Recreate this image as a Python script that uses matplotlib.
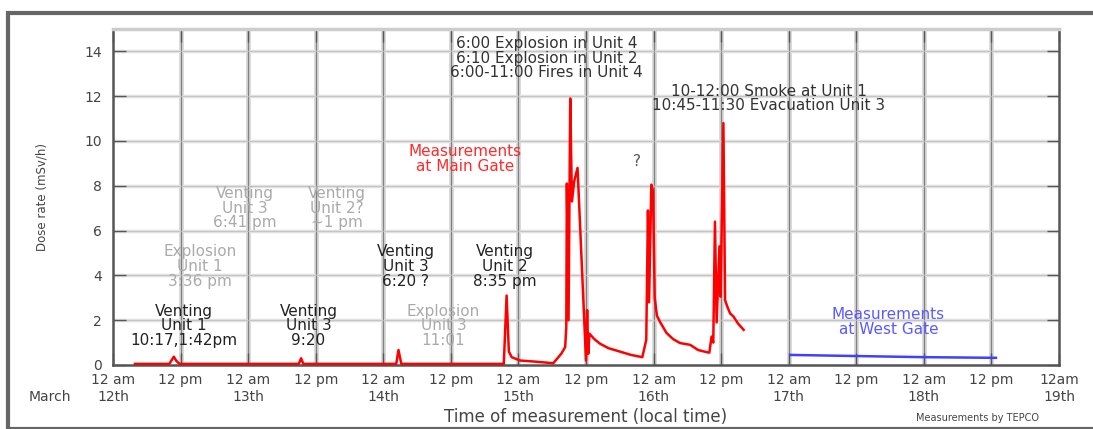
import matplotlib
matplotlib.use("Agg")
import matplotlib.pyplot as plt
from matplotlib.patches import Rectangle
import matplotlib.transforms as mtransforms

# hours since 12 am, March 12th
main_gate_t = [3.9, 10.0, 10.5, 10.8, 11.2, 11.8, 33.0, 33.4, 33.8, 50.3, 50.7, 51.2,
               69.4, 69.9, 70.3, 70.8, 72.3, 75.0, 78.2, 79.6, 80.3, 80.5, 80.6, 80.9,
               81.2, 81.5, 81.9, 82.5, 84.0, 84.2, 84.4, 84.6, 85.5, 86.5, 88.0, 90.0,
               92.0, 94.0, 94.7, 95.0, 95.2, 95.6, 95.9, 96.2, 96.6, 97.2, 98.3, 99.5,
               100.7, 102.5, 103.9, 105.0, 105.9, 106.3, 106.6, 106.9, 107.2, 107.7, 107.9,
               108.4, 108.7, 109.1, 109.6, 110.2, 111.0, 112.0]
main_gate_v = [0.05, 0.05, 0.25, 0.37, 0.2, 0.05, 0.05, 0.3, 0.05, 0.05, 0.67, 0.05,
               0.05, 3.1, 0.6, 0.35, 0.2, 0.15, 0.08, 0.5, 0.8, 1.7, 8.1, 2.0,
               11.9, 7.3, 8.2, 8.8, 0.2, 2.45, 0.5, 1.4, 1.15, 0.95, 0.75, 0.6,
               0.45, 0.35, 1.12, 6.9, 2.8, 8.05, 7.8, 3.0, 2.2, 1.9, 1.43, 1.15,
               0.98, 0.9, 0.67, 0.6, 0.55, 1.27, 1.0, 6.4, 1.9, 5.3, 3.05,
               10.8, 2.9, 2.6, 2.3, 2.16, 1.85, 1.57]

west_gate_t = [120.3, 132.0, 144.0, 156.8]
west_gate_v = [0.45, 0.4, 0.35, 0.32]

tick_hours = list(range(0, 169, 12))
tick_labels = ["12 am", "12 pm"] * 7 + ["12am"]
day_hours = [0, 24, 48, 72, 96, 120, 144, 168]
day_labels = ["12th", "13th", "14th", "15th", "16th", "17th", "18th", "19th"]

# (hour, dose, text, colour)
notes = [
    (77.0, 13.7, "6:00 Explosion in Unit 4\n6:10 Explosion in Unit 2\n6:00-11:00 Fires in Unit 4", "#333333"),
    (116.4, 11.9, "10-12:00 Smoke at Unit 1\n10:45-11:30 Evacuation Unit 3", "#333333"),
    (93.0, 9.1, "?", "#555555"),
    (62.5, 9.2, "Measurements\nat Main Gate", "#ff2a2a"),
    (137.7, 1.92, "Measurements\nat West Gate", "#5a5aff"),
    (23.4, 7.0, "Venting\nUnit 3\n6:41 pm", "#aaaaaa"),
    (39.8, 7.0, "Venting\nUnit 2?\n~1 pm", "#aaaaaa"),
    (15.5, 4.4, "Explosion\nUnit 1\n3:36 pm", "#aaaaaa"),
    (52.0, 4.4, "Venting\nUnit 3\n6:20 ?", "#222222"),
    (69.6, 4.4, "Venting\nUnit 2\n8:35 pm", "#222222"),
    (12.5, 1.75, "Venting\nUnit 1\n10:17,1:42pm", "#222222"),
    (34.7, 1.75, "Venting\nUnit 3\n9:20", "#222222"),
    (58.7, 1.75, "Explosion\nUnit 3\n11:01", "#aaaaaa"),
]

W, H = 1093, 429
fig = plt.figure(figsize=(W / 100, H / 100), dpi=100)
fig.patches.append(Rectangle((8 / W, 0), 1.0, 1 - 13 / H, transform=fig.transFigure,
                             fill=False, edgecolor="#666666", linewidth=3))

ax = fig.add_axes([113 / W, 1 - 365 / H, (1059 - 113) / W, (365 - 29) / H])
ax.set_xlim(0, 168)
ax.set_ylim(0, 15)

# grid: wide light band with a thin darker line on top
for h in tick_hours[1:-1]:
    ax.axvline(h, color="#d8d8d8", lw=3.5, zorder=0)
    ax.axvline(h, color="#808080", lw=0.9, zorder=0.5)
for d in range(2, 15, 2):
    ax.axhline(d, color="#e0e0e0", lw=2.5, zorder=0)
    ax.axhline(d, color="#c0c0c0", lw=0.6, zorder=0.5)

ax.plot(main_gate_t, main_gate_v, color="#ff0000", lw=1.8, zorder=3)
ax.plot(west_gate_t, west_gate_v, color="#4040ff", lw=1.8, zorder=3)

for x, y, s, c in notes:
    ax.text(x, y, s, color=c, fontsize=11, ha="center", va="center",
            linespacing=0.98, zorder=4)

ax.set_xticks(tick_hours)
ax.set_xticklabels(tick_labels)
ax.set_yticks(range(0, 15, 2))
ax.tick_params(axis="both", direction="in", length=9, width=1, colors="#555555",
               labelcolor="#444444", labelsize=10, top=True, right=True)
ax.tick_params(axis="x", pad=6)
ax.tick_params(axis="y", pad=8)

for side in ["left", "right", "bottom"]:
    ax.spines[side].set_color("#555555")
    ax.spines[side].set_linewidth(1.8)
ax.spines["top"].set_color("#cccccc")
ax.spines["top"].set_linewidth(2.5)

trans = mtransforms.blended_transform_factory(ax.transData, ax.transAxes)
for h, lab in zip(day_hours, day_labels):
    ax.text(h, -0.095, lab, transform=trans, ha="center", va="center",
            fontsize=10, color="#444444", clip_on=False)
ax.text(-11.2, -0.095, "March", transform=trans, ha="center", va="center",
        fontsize=10, color="#444444", clip_on=False)

ax.set_xlabel("Time of measurement (local time)", fontsize=12, color="#444444", va="center")
ax.xaxis.set_label_coords(0.5, -0.155)
ax.set_ylabel("Dose rate (mSv/h)", fontsize=8.5, color="#444444", va="center")
ax.yaxis.set_label_coords(-0.075, 0.5)

fig.text(978 / W, 1 - 418 / H, "Measurements by TEPCO", fontsize=7, color="#444444",
         ha="center", va="center")

fig.savefig("out.png", dpi=100)
